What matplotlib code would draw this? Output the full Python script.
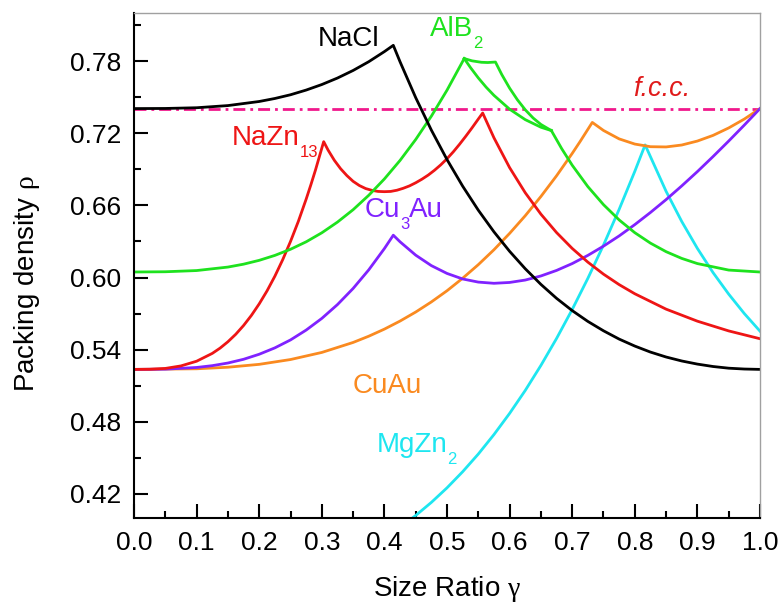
import numpy as np
import matplotlib.pyplot as plt
from matplotlib.ticker import FormatStrFormatter

plt.rcParams['font.family'] = ['Liberation Sans', 'DejaVu Sans']
plt.rcParams['mathtext.fontset'] = 'custom'
plt.rcParams['mathtext.rm'] = 'Liberation Serif'
plt.rcParams['mathtext.it'] = 'Liberation Serif:italic'

# packing density vs size ratio for the binary structures
nacl_g = [0.0, 0.05, 0.1, 0.15, 0.2, 0.225, 0.25, 0.275, 0.3, 0.325, 0.35, 0.375, 0.4, 0.4142,
          0.425, 0.45, 0.475, 0.5, 0.525, 0.55, 0.575, 0.6, 0.625, 0.65, 0.675, 0.7, 0.725, 0.75,
          0.775, 0.8, 0.825, 0.85, 0.875, 0.9, 0.925, 0.95, 0.975, 1.0]
nacl_r = [0.7405, 0.7406, 0.7412, 0.7430, 0.7464, 0.7489, 0.7520, 0.7559, 0.7605, 0.7659, 0.7722,
          0.7795, 0.7879, 0.7931,
          0.7794, 0.7496, 0.7226, 0.6981, 0.6760, 0.6560, 0.6380, 0.6218, 0.6073, 0.5943, 0.5827,
          0.5725, 0.5635, 0.5557, 0.5488, 0.5430, 0.5380, 0.5339, 0.5306, 0.5280, 0.5260, 0.5246,
          0.5239, 0.5236]

# AlB2 has four branches
alb2_g1 = [0.0, 0.05, 0.1, 0.15, 0.175, 0.2, 0.225, 0.25, 0.275, 0.3, 0.325, 0.35, 0.375, 0.4,
           0.425, 0.45, 0.475, 0.5, 0.5275]
alb2_r1 = [0.6046, 0.6048, 0.6058, 0.6087, 0.6111, 0.6143, 0.6184, 0.6235, 0.6297, 0.6372, 0.6461,
           0.6564, 0.6684, 0.6820, 0.6974, 0.7148, 0.7342, 0.7558, 0.7821]
alb2_g2 = [0.5275, 0.54, 0.555, 0.565, 0.5774, 0.5875, 0.6, 0.6125, 0.625, 0.6375, 0.65, 0.6667]
alb2_r2 = [0.7821, 0.7802, 0.7790, 0.7788, 0.7792, 0.7688, 0.7575, 0.7478, 0.7395, 0.7327, 0.7273, 0.7222]
alb2_g3 = [0.5275, 0.5375, 0.55, 0.5625, 0.575, 0.6, 0.625, 0.65, 0.6667]
alb2_r3 = [0.7821, 0.7746, 0.7660, 0.7583, 0.7515, 0.7400, 0.7313, 0.7250, 0.7222]
alb2_g4 = [0.6667, 0.6833, 0.7, 0.725, 0.75, 0.775, 0.8, 0.825, 0.85, 0.875, 0.9, 0.95, 1.0]
alb2_r4 = [0.7222, 0.7071, 0.6934, 0.6756, 0.6606, 0.6479, 0.6373, 0.6286, 0.6215, 0.6159, 0.6116,
           0.6062, 0.6046]

nazn_g = [0.0, 0.025, 0.05, 0.075, 0.1, 0.125, 0.1375, 0.15, 0.1625, 0.175, 0.1875, 0.2, 0.2125,
          0.225, 0.2375, 0.25, 0.2625, 0.275, 0.2825, 0.29, 0.303,
          0.31, 0.32, 0.33, 0.34, 0.35, 0.36, 0.37, 0.38, 0.39, 0.4, 0.41, 0.42, 0.43, 0.44,
          0.45, 0.46, 0.47, 0.48, 0.49, 0.5, 0.51, 0.52, 0.53, 0.54, 0.55, 0.557,
          0.575, 0.6, 0.625, 0.65, 0.675, 0.7, 0.725, 0.75, 0.775, 0.8, 0.85, 0.9, 0.95, 1.0]
nazn_r = [0.5236, 0.5237, 0.5244, 0.5265, 0.5304, 0.5369, 0.5413, 0.5466, 0.5528, 0.5601, 0.5685,
          0.5781, 0.5889, 0.6011, 0.6148, 0.6300, 0.6467, 0.6652, 0.6771, 0.6896, 0.7130,
          0.7060, 0.6975, 0.6905, 0.6848, 0.6800, 0.6765, 0.6740, 0.6725, 0.6716, 0.6714, 0.6716, 0.6726,
          0.6742, 0.6762, 0.6788, 0.6818, 0.6852, 0.6892, 0.6937, 0.6988, 0.7045, 0.7108, 0.7175, 0.7245,
          0.7318, 0.7368,
          0.7162, 0.6914, 0.6705, 0.6527, 0.6374, 0.6242, 0.6128, 0.6028, 0.5941, 0.5865, 0.5737, 0.5637,
          0.5556, 0.5491]

cu3au_g = [0.0, 0.05, 0.1, 0.125, 0.15, 0.175, 0.2, 0.225, 0.25, 0.275, 0.3, 0.325, 0.35, 0.375, 0.4,
           0.4142, 0.425, 0.45, 0.475, 0.5, 0.525, 0.55, 0.575, 0.6, 0.625, 0.65, 0.675, 0.7, 0.725,
           0.75, 0.775, 0.8, 0.825, 0.85, 0.875, 0.9, 0.925, 0.95, 0.975, 1.0]
cu3au_r = [0.5236, 0.5238, 0.5252, 0.5267, 0.5289, 0.5320, 0.5362, 0.5415, 0.5481, 0.5563, 0.5660,
           0.5775, 0.5909, 0.6064, 0.6241, 0.6352,
           0.6297, 0.6186, 0.6099, 0.6034, 0.5988, 0.5962, 0.5952, 0.5959, 0.5979, 0.6013, 0.6059,
           0.6116, 0.6184, 0.6261, 0.6346, 0.6440, 0.6541, 0.6648, 0.6762, 0.6881, 0.7006, 0.7135,
           0.7268, 0.7405]

cuau_g = [0.0, 0.1, 0.15, 0.2, 0.25, 0.3, 0.35, 0.375, 0.4, 0.425, 0.45, 0.475, 0.5, 0.525, 0.55,
          0.575, 0.6, 0.625, 0.65, 0.675, 0.7, 0.7125, 0.7321, 0.75, 0.775, 0.8, 0.825, 0.85, 0.875,
          0.9, 0.925, 0.95, 0.975, 1.0]
cuau_r = [0.5236, 0.5241, 0.5254, 0.5278, 0.5318, 0.5377, 0.5460, 0.5512, 0.5571, 0.5638, 0.5713,
          0.5797, 0.5890, 0.5994, 0.6107, 0.6231, 0.6367, 0.6514, 0.6674, 0.6846, 0.7032, 0.7130,
          0.7290, 0.7223, 0.7153, 0.7110, 0.7088, 0.7086, 0.7102, 0.7135, 0.7182, 0.7244, 0.7318,
          0.7405]

mgzn_g = [0.4, 0.425, 0.45, 0.475, 0.5, 0.525, 0.55, 0.575, 0.6, 0.625, 0.65, 0.675, 0.7, 0.725,
          0.75, 0.775, 0.8, 0.8165, 0.85, 0.875, 0.9, 0.925, 0.95, 0.975, 1.0]
mgzn_r = [0.3836, 0.3923, 0.4021, 0.4130, 0.4251, 0.4385, 0.4532, 0.4694, 0.4870, 0.5061, 0.5269,
          0.5493, 0.5734, 0.5993, 0.6270, 0.6567, 0.6883, 0.7103,
          0.6717, 0.6466, 0.6242, 0.6041, 0.5862, 0.5700, 0.5554]

fcc_g = [0.0, 1.0]
fcc_r = [0.7405, 0.7405]

c_nacl = 'black'
c_alb2 = '#1ee21e'
c_nazn = '#ee1515'
c_cu3au = '#8022ff'
c_cuau = '#fa8a20'
c_mgzn = '#1ee6f0'
c_fcc = '#f0188c'

fig, ax = plt.subplots(figsize=(7.81, 6.07), dpi=100)
fig.subplots_adjust(left=0.1716, right=0.9731, bottom=0.1466, top=0.9786)

lw = 2.0
ax.plot(fcc_g, fcc_r, color=c_fcc, lw=lw, dashes=[4.3, 1.8, 1.0, 1.8])
ax.plot(mgzn_g, mgzn_r, color=c_mgzn, lw=lw)
ax.plot(cuau_g, cuau_r, color=c_cuau, lw=lw)
ax.plot(cu3au_g, cu3au_r, color=c_cu3au, lw=lw)
ax.plot(nazn_g, nazn_r, color=c_nazn, lw=lw)
for g, r in [(alb2_g1, alb2_r1), (alb2_g2, alb2_r2), (alb2_g3, alb2_r3), (alb2_g4, alb2_r4)]:
    ax.plot(g, r, color=c_alb2, lw=lw)
ax.plot(nacl_g, nacl_r, color=c_nacl, lw=lw)


def formula(x, y, parts, color, size=20, subsize=12):
    # parts alternate between normal text and subscripts
    prev = ax.text(x, y, parts[0], color=color, fontsize=size)
    sub = False
    for s in parts[1:]:
        sub = not sub
        if sub:
            prev = ax.annotate(s, xy=(1, 0), xycoords=prev, xytext=(-0.3, -4.3),
                               textcoords='offset points', color=color, fontsize=subsize,
                               va='baseline')
        else:
            prev = ax.annotate(s, xy=(1, 0), xycoords=prev, xytext=(-0.3, 11.0),
                               textcoords='offset points', color=color, fontsize=size,
                               va='baseline')


formula(0.294, 0.7925, ['NaCl'], c_nacl)
formula(0.473, 0.8011, ['AlB', '2'], c_alb2)
ax.text(0.797, 0.7511, 'f.c.c.', color='#e01b1b', fontsize=19.5, style='italic')
formula(0.1565, 0.710, ['NaZn', '13'], c_nazn)
formula(0.369, 0.650, ['Cu', '3', 'Au'], c_cu3au)
formula(0.350, 0.5042, ['CuAu'], c_cuau)
formula(0.388, 0.455, ['MgZn', '2'], c_mgzn)

ax.set_xlim(0, 1)
ax.set_ylim(0.40, 0.82)
ax.set_xticks(np.arange(0, 1.01, 0.1))
ax.set_xticks(np.arange(0.05, 1.0, 0.1), minor=True)
ax.set_yticks([0.42, 0.48, 0.54, 0.60, 0.66, 0.72, 0.78])
ax.set_yticks([0.45, 0.51, 0.57, 0.63, 0.69, 0.75, 0.81], minor=True)
ax.xaxis.set_major_formatter(FormatStrFormatter('%.1f'))
ax.yaxis.set_major_formatter(FormatStrFormatter('%.2f'))
ax.tick_params(which='both', direction='in', top=False, right=False, width=1.5,
               labelsize=19, pad=9)
ax.tick_params(which='major', length=10)
ax.tick_params(which='minor', length=5)

for s in ['left', 'bottom']:
    ax.spines[s].set_linewidth(1.5)
for s in ['top', 'right']:
    ax.spines[s].set_linewidth(1.0)
    ax.spines[s].set_color('#a0a0a0')

ax.set_xlabel(r'Size Ratio $\mathrm{\gamma}$', fontsize=20, labelpad=14)
ax.set_ylabel(r'Packing density $\mathrm{\rho}$', fontsize=20)
ax.yaxis.set_label_coords(-0.147, 0.464)

fig.savefig('out.png', dpi=100)
